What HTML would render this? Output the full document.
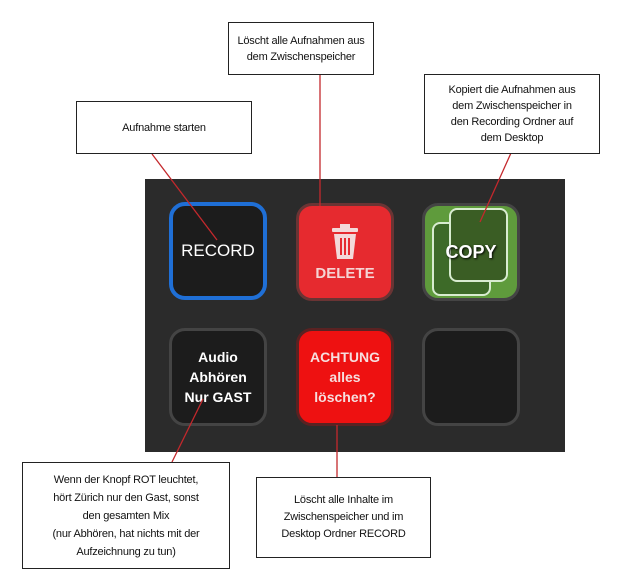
<!DOCTYPE html>
<html><head><style>
body{margin:0;width:625px;height:579px;background:#fff;position:relative;overflow:hidden;font-family:"Liberation Sans",sans-serif}
.box{position:absolute;border:1.5px solid #222;background:#fff;box-sizing:border-box;display:flex;align-items:center;justify-content:center;text-align:center;font-size:11px;line-height:16px;color:#111;white-space:nowrap;letter-spacing:-0.2px}
.panel{position:absolute;left:145px;top:179px;width:420px;height:273px;background:#2b2b2b}
.btn{position:absolute;width:98px;height:98px;border-radius:16px;box-sizing:border-box;display:flex;align-items:center;justify-content:center;text-align:center;color:#fff;font-weight:bold}
</style></head><body>
<div class="panel"></div>
<div class="btn" style="left:169px;top:202px;background:#1c1c1c;border:4px solid #1f6fd6;font-weight:normal;font-size:17px">RECORD</div>
<div class="btn" style="left:296px;top:203px;background:#e62a2f;border:3px solid #6a3434;flex-direction:column;font-size:15px;color:#f4d4d4">
<svg width="30" height="38" viewBox="0 0 30 38"><rect x="2" y="5" width="26" height="4" rx="1" fill="#f3d9d9"/><rect x="10" y="1" width="10" height="5" fill="#f3d9d9"/><path d="M4 11 H26 L23 36 H7Z" fill="#f3d9d9"/><path d="M11 15 V32 M15 15 V32 M19 15 V32" stroke="#e62a2f" stroke-width="2"/></svg>
<span style="margin-top:4px">DELETE</span></div>
<div class="btn" style="left:422px;top:203px;background:#5f9b3c;border:3px solid #444;overflow:hidden">
<div style="position:absolute;left:7px;top:16px;width:55px;height:70px;border:2px solid #d8ecd0;border-radius:8px;background:#3d6a28"></div>
<div style="position:absolute;left:24px;top:2px;width:55px;height:70px;border:2px solid #d8ecd0;border-radius:8px;background:#3a5d24"></div>
<span style="position:relative;font-size:18px;text-shadow:1px 1px 2px #000">COPY</span></div>
<div class="btn" style="left:169px;top:328px;background:#1c1c1c;border:3px solid #444;font-size:14px;line-height:20px">Audio<br>Abhören<br>Nur GAST</div>
<div class="btn" style="left:296px;top:328px;background:#ee1111;border:3px solid #5a2222;font-size:14px;line-height:20px;color:#f6dede">ACHTUNG<br>alles<br>löschen?</div>
<div class="btn" style="left:422px;top:328px;background:#1c1c1c;border:3px solid #444"></div>
<svg style="position:absolute;left:0;top:0" width="625" height="579"><g stroke="#c4282c" stroke-width="1.3"><line x1="152" y1="154" x2="217" y2="240"/><line x1="320" y1="74" x2="320" y2="206"/><line x1="511" y1="153" x2="480" y2="222"/><line x1="172" y1="462" x2="203" y2="399"/><line x1="337" y1="425" x2="337" y2="477"/></g></svg>
<div class="box" style="left:228px;top:22px;width:146px;height:53px">Löscht alle Aufnahmen aus<br>dem Zwischenspeicher</div>
<div class="box" style="left:76px;top:101px;width:176px;height:53px">Aufnahme starten</div>
<div class="box" style="left:424px;top:74px;width:176px;height:80px">Kopiert die Aufnahmen aus<br>dem Zwischenspeicher in<br>den Recording Ordner auf<br>dem Desktop</div>
<div class="box" style="left:22px;top:462px;width:208px;height:107px;line-height:18px">Wenn der Knopf ROT leuchtet,<br>hört Zürich nur den Gast, sonst<br>den gesamten Mix<br>(nur Abhören, hat nichts mit der<br>Aufzeichnung zu tun)</div>
<div class="box" style="left:256px;top:477px;width:175px;height:81px;line-height:17px">Löscht alle Inhalte im<br>Zwischenspeicher und im<br>Desktop Ordner RECORD</div>
</body></html>
